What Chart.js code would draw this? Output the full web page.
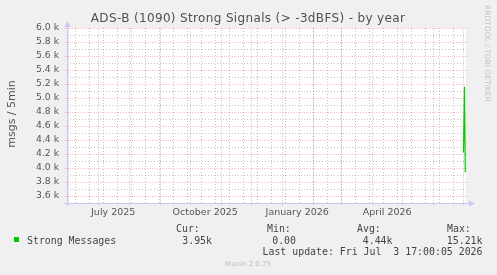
<!DOCTYPE html>
<html>
<head>
<meta charset="utf-8">
<script src="https://cdn.jsdelivr.net/npm/chart.js@4/dist/chart.umd.min.js"></script>
<style>
  html, body { margin: 0; padding: 0; background: #f0f0f0; }
  canvas { display: block; }
</style>
</head>
<body>
<canvas id="chart" width="497" height="275"></canvas>
<script>
// データ（2025-06-01 からの日数）
const dayOffsets = [395.3, 396.3, 397.1];
const strongMessages = [4220, 5160, 3940];

// 目盛り
const yTickValues = [3600, 3800, 4000, 4200, 4400, 4600, 4800, 5000, 5200, 5400, 5600, 5800, 6000];
const monthStartDays = [0, 30, 61, 92, 122, 153, 183, 214, 245, 273, 304, 334, 365, 395];
const monthLabelDays = [45, 137, 229, 319];
const monthLabels = ['July 2025', 'October 2025', 'January 2026', 'April 2026'];

// 凡例
const seriesName = 'Strong Messages';
const statLabels = ['Cur:', 'Min:', 'Avg:', 'Max:'];
const statValues = ['3.95k', '0.00', '4.44k', '15.21k'];
const lastUpdate = 'Last update: Fri Jul  3 17:00:05 2026';

const TEXT = '#555';
const MONO = 'DejaVu Sans Mono';

function line(ctx, x1, y1, x2, y2) {
  ctx.beginPath();
  ctx.moveTo(x1, y1);
  ctx.lineTo(x2, y2);
  ctx.stroke();
}

// 背景とグリッド
const rrdBackground = {
  id: 'rrdBackground',
  beforeDraw(chart) {
    const { ctx, chartArea: a } = chart;
    ctx.save();
    ctx.fillStyle = '#f0f0f0';
    ctx.fillRect(0, 0, chart.width, chart.height);
    ctx.fillStyle = '#ffffff';
    ctx.fillRect(a.left, a.top, a.right - a.left, a.bottom - a.top);
    ctx.restore();
  },
  beforeDatasetsDraw(chart) {
    const { ctx, chartArea: a, scales: { x, y } } = chart;
    ctx.save();
    ctx.lineWidth = 1;

    // 細かいグリッド（グレー）
    ctx.setLineDash([1, 2]);
    ctx.strokeStyle = 'rgba(120,120,120,0.45)';
    for (let d = 7; d < x.max; d += 14) {
      const px = Math.round(x.getPixelForValue(d)) + 0.5;
      line(ctx, px, a.top, px, a.bottom);
    }
    for (let v = 3700; v < 6000; v += 200) {
      const py = Math.round(y.getPixelForValue(v)) + 0.5;
      line(ctx, a.left, py, a.right, py);
    }

    // 主グリッド（赤）
    ctx.setLineDash([1, 1]);
    ctx.strokeStyle = 'rgba(235,60,60,0.3)';
    monthStartDays.forEach(d => {
      const px = Math.round(x.getPixelForValue(d)) + 0.5;
      line(ctx, px, a.top, px, a.bottom + 3);
    });
    yTickValues.forEach(v => {
      const py = Math.round(y.getPixelForValue(v)) + 0.5;
      line(ctx, a.left - 3, py, a.right + 2, py);
    });
    ctx.restore();
  },
  afterDraw(chart) {
    const { ctx, chartArea: a } = chart;
    ctx.save();

    // 軸と矢印
    ctx.strokeStyle = '#c8c8f8';
    ctx.fillStyle = '#c8c8f8';
    ctx.lineWidth = 1;
    line(ctx, a.left + 0.5, a.top - 2, a.left + 0.5, a.bottom + 3);
    line(ctx, a.left - 3, a.bottom + 0.5, a.right + 4, a.bottom + 0.5);
    ctx.beginPath();
    ctx.moveTo(a.left - 2.5, a.top - 1);
    ctx.lineTo(a.left + 3.5, a.top - 1);
    ctx.lineTo(a.left + 0.5, a.top - 7);
    ctx.fill();
    ctx.beginPath();
    ctx.moveTo(a.right + 3, a.bottom - 2.5);
    ctx.lineTo(a.right + 3, a.bottom + 3.5);
    ctx.lineTo(a.right + 9, a.bottom + 0.5);
    ctx.fill();

    // タイトル
    ctx.fillStyle = '#505050';
    ctx.font = '12px "DejaVu Sans"';
    ctx.letterSpacing = '0.35px';
    ctx.textAlign = 'center';
    ctx.textBaseline = 'middle';
    ctx.fillText('ADS-B (1090) Strong Signals (> -3dBFS) - by year', 248, 19);
    ctx.letterSpacing = '0px';

    // 縦軸ラベル
    ctx.save();
    ctx.translate(12, 114);
    ctx.rotate(-Math.PI / 2);
    ctx.fillStyle = TEXT;
    ctx.font = '11px "DejaVu Sans"';
    ctx.fillText('msgs / 5min', 0, 0);
    ctx.restore();

    // 右側の縦書き
    ctx.save();
    ctx.translate(487, 5);
    ctx.rotate(Math.PI / 2);
    ctx.textAlign = 'left';
    ctx.fillStyle = '#c4c4c4';
    ctx.font = '7.5px "DejaVu Sans"';
    ctx.fillText('RRDTOOL / TOBI OETIKER', 0, 0);
    ctx.restore();

    // 凡例
    ctx.fillStyle = '#00cc00';
    ctx.fillRect(14, 237, 5, 5);
    ctx.font = '9.9px "' + MONO + '"';
    ctx.fillStyle = '#444';
    ctx.textBaseline = 'alphabetic';
    ctx.textAlign = 'left';
    ctx.fillText(seriesName, 27, 243.5);
    const labelX = [176, 267, 357, 447];
    const valueRight = [212, 296, 392.5, 482.5];
    statLabels.forEach((t, i) => ctx.fillText(t, labelX[i], 231.5));
    ctx.textAlign = 'right';
    statValues.forEach((t, i) => ctx.fillText(t, valueRight[i], 243.5));
    ctx.fillText(lastUpdate, 482.5, 254.5);

    ctx.textAlign = 'center';
    ctx.fillStyle = '#bdbdbd';
    ctx.font = '7px "DejaVu Sans"';
    ctx.fillText('Munin 2.0.75', 248, 266);
    ctx.restore();
  }
};

new Chart(document.getElementById('chart'), {
  type: 'line',
  data: {
    datasets: [{
      label: seriesName,
      data: dayOffsets.map((d, i) => ({ x: d, y: strongMessages[i] })),
      borderColor: '#00cc00',
      borderWidth: 1.2,
      pointRadius: 0,
      tension: 0
    }]
  },
  options: {
    responsive: false,
    animation: false,
    layout: { padding: { left: 0, right: 31, top: 28, bottom: 52 } },
    plugins: {
      legend: { display: false },
      tooltip: { enabled: false }
    },
    scales: {
      x: {
        type: 'linear',
        min: -1.2,
        max: 397.8,
        grid: { display: false, drawTicks: false },
        border: { display: false },
        afterBuildTicks: s => { s.ticks = monthLabelDays.map(v => ({ value: v })); },
        afterFit: s => { s.height = 20; },
        ticks: {
          autoSkip: false,
          maxRotation: 0,
          padding: 4,
          color: TEXT,
          font: { family: 'DejaVu Sans', size: 9.5 },
          callback: (v, i) => monthLabels[i]
        }
      },
      y: {
        min: 3500,
        max: 6000,
        grid: { display: false, drawTicks: false },
        border: { display: false },
        afterBuildTicks: s => { s.ticks = yTickValues.map(v => ({ value: v })); },
        afterFit: s => { s.width = 67; },
        ticks: {
          padding: 8,
          color: TEXT,
          font: { family: 'DejaVu Sans', size: 9.25 },
          callback: v => (v / 1000).toFixed(1) + ' k'
        }
      }
    }
  },
  plugins: [rrdBackground]
});
</script>
</body>
</html>
